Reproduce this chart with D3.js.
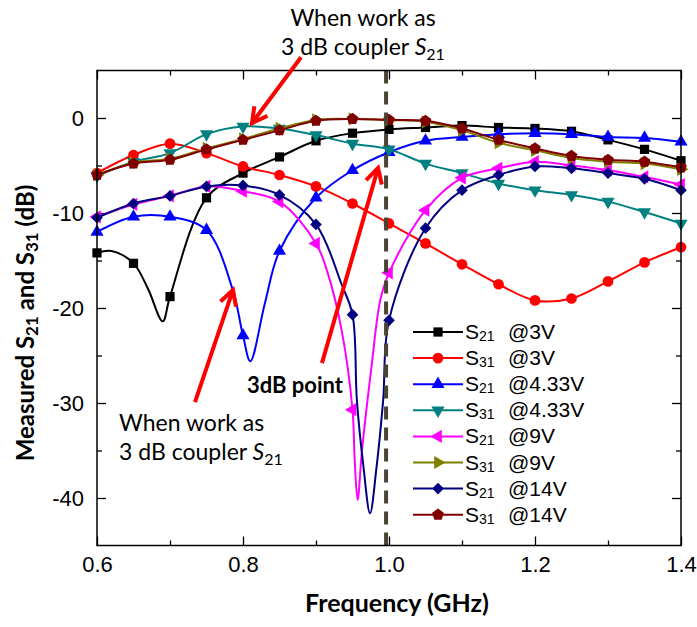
<!DOCTYPE html>
<html lang="en">
<head>
<meta charset="UTF-8">
<title>Measured S21 and S31</title>
<script src="https://d3js.org/d3.v7.min.js"></script>
<style>
    html, body { margin: 0; background: #fff; }
    svg { display: block; }
    .tick text { font-family: "Liberation Sans", Arial, sans-serif; font-size: 22px; fill: #000; }
    .tick line { stroke: #000; stroke-width: 1.3px; }
</style>
</head>
<body>
<div id="vis"></div>
<script>
    // [frequency GHz, dB]; points on the 0.05 GHz grid get a marker
    var s21_3V = [[0.6,-14.2],[0.62,-14.0],[0.65,-15.3],[0.67,-18.0],[0.69,-21.4],[0.7,-18.8],[0.75,-8.4],[0.8,-5.8],[0.85,-4.1],[0.9,-2.4],[0.95,-1.6],[1.0,-1.2],[1.05,-1.0],[1.1,-0.8],[1.15,-1.0],[1.2,-1.1],[1.25,-1.4],[1.3,-2.3],[1.35,-3.3],[1.4,-4.5]];
    var s31_3V = [[0.6,-5.8],[0.65,-3.9],[0.7,-2.7],[0.75,-3.7],[0.8,-5.1],[0.85,-6.0],[0.9,-7.2],[0.95,-9.0],[1.0,-11.1],[1.05,-13.2],[1.1,-15.4],[1.15,-17.5],[1.2,-19.2],[1.25,-19.0],[1.3,-17.2],[1.35,-15.2],[1.4,-13.6]];
    var s21_433V = [[0.6,-12.0],[0.65,-10.4],[0.7,-10.4],[0.75,-11.8],[0.786,-18.1],[0.8,-22.9],[0.81,-25.6],[0.83,-19.5],[0.85,-14.0],[0.9,-8.4],[0.95,-5.5],[1.0,-3.6],[1.05,-2.4],[1.1,-2.0],[1.15,-1.7],[1.2,-1.6],[1.25,-1.7],[1.3,-2.0],[1.35,-2.1],[1.4,-2.5]];
    var s31_433V = [[0.6,-6.1],[0.65,-4.6],[0.7,-3.7],[0.75,-1.7],[0.8,-0.9],[0.85,-1.1],[0.9,-1.8],[0.95,-2.7],[1.0,-3.3],[1.05,-4.8],[1.1,-5.8],[1.15,-6.9],[1.2,-7.6],[1.25,-8.1],[1.3,-8.8],[1.35,-9.9],[1.4,-11.1]];
    var s21_9V = [[0.6,-10.4],[0.65,-9.1],[0.7,-8.2],[0.75,-7.2],[0.8,-7.7],[0.85,-8.8],[0.9,-13.2],[0.916,-16.3],[0.935,-22.3],[0.95,-30.7],[0.953,-36.0],[0.957,-40.2],[0.963,-35.0],[0.976,-26.2],[0.988,-19.2],[1.0,-16.3],[1.05,-9.7],[1.1,-6.3],[1.15,-5.3],[1.2,-4.6],[1.25,-5.0],[1.3,-5.5],[1.35,-6.2],[1.4,-7.0]];
    var s31_9V = [[0.6,-6.0],[0.65,-4.7],[0.7,-4.3],[0.75,-3.2],[0.8,-2.2],[0.85,-1.1],[0.9,-0.2],[0.95,-0.1],[1.0,-0.2],[1.05,-0.4],[1.1,-1.3],[1.15,-2.6],[1.2,-3.4],[1.25,-4.2],[1.3,-4.6],[1.35,-4.8],[1.4,-5.4]];
    var s21_14V = [[0.6,-10.5],[0.65,-9.0],[0.7,-8.2],[0.75,-7.2],[0.8,-7.1],[0.85,-8.1],[0.9,-11.2],[0.935,-17.5],[0.95,-20.7],[0.956,-29.7],[0.965,-36.7],[0.974,-41.6],[0.983,-36.7],[0.992,-29.7],[1.0,-21.3],[1.05,-11.6],[1.1,-7.6],[1.15,-6.0],[1.2,-5.1],[1.25,-5.3],[1.3,-5.8],[1.35,-6.4],[1.4,-7.6]];
    var s31_14V = [[0.6,-6.0],[0.65,-4.8],[0.7,-4.4],[0.75,-3.3],[0.8,-2.3],[0.85,-1.3],[0.9,-0.3],[0.95,-0.1],[1.0,-0.2],[1.05,-0.3],[1.1,-1.1],[1.15,-2.3],[1.2,-3.2],[1.25,-4.0],[1.3,-4.4],[1.35,-4.6],[1.4,-5.2]];

    var xMajor = [0.6, 0.8, 1.0, 1.2, 1.4];
    var xMinor = [0.7, 0.9, 1.1, 1.3];
    var yMajor = [0, -10, -20, -30, -40];
    var yMinor = [-5, -15, -25, -35];
    var markerFreq = 0.996;   // dashed "3dB point" line

    var width = 697, height = 627;
    var margin = {top: 70.5, right: 16, bottom: 81.5, left: 97};
    var plotW = width - margin.left - margin.right;
    var plotH = height - margin.top - margin.bottom;

    var svg = d3.select('#vis').append('svg')
        .attr('width', width)
        .attr('height', height);

    var g = svg.append('g')
        .attr('transform', 'translate(' + margin.left + ',' + margin.top + ')');

    var x = d3.scaleLinear().domain([0.6, 1.4]).range([0, plotW]);
    var y = d3.scaleLinear().domain([5, -45]).range([0, plotH]);

    // custom pentagon symbol
    var symbolPentagon = {
        draw: function(ctx, size) {
            var r = Math.sqrt(size / 2.378);
            for (var i = 0; i < 5; i++) {
                var a = -Math.PI / 2 + i * 2 * Math.PI / 5;
                if (i === 0) ctx.moveTo(r * Math.cos(a), r * Math.sin(a));
                else ctx.lineTo(r * Math.cos(a), r * Math.sin(a));
            }
            ctx.closePath();
        }
    };

    var series = [
        {data: s21_3V,   color: '#000000', type: d3.symbolSquare,   size: 85, rot: 0,   sub: '21', v: '@3V'},
        {data: s31_3V,   color: '#ff0000', type: d3.symbolCircle,   size: 90, rot: 0,   sub: '31', v: '@3V'},
        {data: s21_433V, color: '#0000ff', type: d3.symbolTriangle, size: 75, rot: 0,   sub: '21', v: '@4.33V'},
        {data: s31_433V, color: '#008080', type: d3.symbolTriangle, size: 75, rot: 180, sub: '31', v: '@4.33V'},
        {data: s21_9V,   color: '#ff00ff', type: d3.symbolTriangle, size: 75, rot: -90, sub: '21', v: '@9V'},
        {data: s31_9V,   color: '#808000', type: d3.symbolTriangle, size: 75, rot: 90,  sub: '31', v: '@9V'},
        {data: s21_14V,  color: '#000080', type: d3.symbolSquare,   size: 68, rot: 45,  sub: '21', v: '@14V'},
        {data: s31_14V,  color: '#800000', type: symbolPentagon,    size: 90, rot: 0,   sub: '31', v: '@14V'}
    ];

    function onGrid(f) {
        return Math.abs(f * 20 - Math.round(f * 20)) < 1e-6;
    }

    // axes: ticks inside on all four sides
    var fmtY = function(d) { return String(d); };
    g.append('g').attr('class', 'axis')
        .attr('transform', 'translate(0,' + plotH + ')')
        .call(d3.axisBottom(x).tickValues(xMajor).tickSize(-9).tickPadding(11).tickFormat(d3.format('.1f')));
    g.append('g').attr('class', 'axis')
        .attr('transform', 'translate(0,' + plotH + ')')
        .call(d3.axisBottom(x).tickValues(xMinor).tickSize(-5).tickFormat(''));
    g.append('g').attr('class', 'axis')
        .call(d3.axisTop(x).tickValues(xMajor).tickSize(-9).tickFormat(''));
    g.append('g').attr('class', 'axis')
        .call(d3.axisTop(x).tickValues(xMinor).tickSize(-5).tickFormat(''));
    g.append('g').attr('class', 'axis')
        .call(d3.axisLeft(y).tickValues(yMajor).tickSize(-9).tickPadding(13).tickFormat(fmtY));
    g.append('g').attr('class', 'axis')
        .call(d3.axisLeft(y).tickValues(yMinor).tickSize(-5).tickFormat(''));
    g.append('g').attr('class', 'axis')
        .attr('transform', 'translate(' + plotW + ',0)')
        .call(d3.axisRight(y).tickValues(yMajor).tickSize(-9).tickFormat(''));
    g.append('g').attr('class', 'axis')
        .attr('transform', 'translate(' + plotW + ',0)')
        .call(d3.axisRight(y).tickValues(yMinor).tickSize(-5).tickFormat(''));
    g.selectAll('.axis .domain').remove();

    // curves
    var line = d3.line()
        .x(function(d) { return x(d[0]); })
        .y(function(d) { return y(d[1]); })
        .curve(d3.curveCatmullRom.alpha(0.5));

    series.forEach(function(s) {
        g.append('path')
            .datum(s.data)
            .attr('d', line)
            .attr('fill', 'none')
            .attr('stroke', s.color)
            .attr('stroke-width', 2);
        g.selectAll(null)
            .data(s.data.filter(function(d) { return onGrid(d[0]); }))
            .enter().append('path')
            .attr('d', d3.symbol().type(s.type).size(s.size))
            .attr('transform', function(d) {
                return 'translate(' + x(d[0]) + ',' + y(d[1]) + ') rotate(' + s.rot + ')';
            })
            .attr('fill', s.color);
    });

    // dashed vertical line at the 3dB point
    g.append('line')
        .attr('x1', x(markerFreq)).attr('x2', x(markerFreq))
        .attr('y1', 0).attr('y2', plotH)
        .attr('stroke', '#4a4434')
        .attr('stroke-width', 4)
        .attr('stroke-dasharray', '13,8');

    // frame
    g.append('rect')
        .attr('width', plotW).attr('height', plotH)
        .attr('fill', 'none').attr('stroke', '#000').attr('stroke-width', 1.5);

    // legend
    var legend = g.append('g')
        .attr('transform', 'translate(' + (413 - margin.left) + ',' + (332 - margin.top) + ')');
    series.forEach(function(s, i) {
        var row = legend.append('g').attr('transform', 'translate(0,' + (i * 26.1) + ')');
        row.append('line').attr('x1', 0).attr('x2', 50)
            .attr('stroke', s.color).attr('stroke-width', 2);
        row.append('path')
            .attr('d', d3.symbol().type(s.type).size(s.size))
            .attr('transform', 'translate(25,0) rotate(' + s.rot + ')')
            .attr('fill', s.color);
        var t = row.append('text')
            .attr('x', 52).attr('y', 7)
            .style('font-family', '"Liberation Sans", Arial, sans-serif')
            .style('font-size', '21px');
        t.append('tspan').text('S');
        t.append('tspan').attr('dy', 2).style('font-size', '14px').text(s.sub);
        row.append('text')
            .attr('x', 95).attr('y', 7)
            .style('font-family', '"Liberation Sans", Arial, sans-serif')
            .style('font-size', '21px')
            .text(s.v);
    });

    // red annotation arrows, given as [start, tip] in data units
    var arrows = [
        [[0.8795, 6.4], [0.8123, -0.53]],
        [[0.7342, -29.9], [0.7863, -18.1]],
        [[0.9082, -25.8], [0.985, -5.26]]
    ];
    arrows.forEach(function(a) {
        var x0 = x(a[0][0]), y0 = y(a[0][1]), x1 = x(a[1][0]), y1 = y(a[1][1]);
        var ang = Math.atan2(y1 - y0, x1 - x0);
        var hl = 17, hw = 0.5;
        var p = 'M' + x0 + ',' + y0 + 'L' + x1 + ',' + y1 +
            'M' + (x1 - hl * Math.cos(ang - hw)) + ',' + (y1 - hl * Math.sin(ang - hw)) +
            'L' + x1 + ',' + y1 +
            'L' + (x1 - hl * Math.cos(ang + hw)) + ',' + (y1 - hl * Math.sin(ang + hw));
        svg.append('path')
            .attr('transform', 'translate(' + margin.left + ',' + margin.top + ')')
            .attr('d', p)
            .attr('fill', 'none')
            .attr('stroke', '#ff0000')
            .attr('stroke-width', 4)
            .attr('stroke-linejoin', 'miter');
    });

    // annotation texts
    var annFont = 'Lato, "Open Sans", sans-serif';
    function coupler(xPos, yPos, anchor) {
        svg.append('text').attr('x', xPos).attr('y', yPos)
            .attr('text-anchor', anchor)
            .style('font-family', annFont).style('font-size', '23px')
            .text('When work as');
        var t2 = svg.append('text').attr('x', xPos).attr('y', yPos + 29)
            .attr('text-anchor', anchor)
            .style('font-family', annFont).style('font-size', '23px');
        t2.append('tspan').text('3 dB coupler ');
        t2.append('tspan').style('font-style', 'italic').text('S');
        t2.append('tspan').attr('dy', 5).style('font-size', '16px').text('21');
    }
    coupler(363, 26, 'middle');
    coupler(119, 431, 'start');

    svg.append('text')
        .attr('x', 295).attr('y', 393)
        .attr('text-anchor', 'middle')
        .style('font-family', annFont).style('font-weight', 'bold').style('font-size', '22px')
        .text('3dB point');

    // axis titles
    svg.append('text')
        .attr('x', 397).attr('y', 612)
        .attr('text-anchor', 'middle')
        .style('font-family', annFont).style('font-weight', 'bold').style('font-size', '25px')
        .text('Frequency (GHz)');

    var yt = svg.append('text')
        .attr('transform', 'translate(34,323) rotate(-90)')
        .attr('text-anchor', 'middle')
        .style('font-family', annFont).style('font-weight', 'bold').style('font-size', '24px');
    yt.append('tspan').text('Measured S');
    yt.append('tspan').attr('dy', 4).style('font-size', '17px').text('21');
    yt.append('tspan').attr('dy', -4).text(' and S');
    yt.append('tspan').attr('dy', 4).style('font-size', '17px').text('31');
    yt.append('tspan').attr('dy', -4).text(' (dB)');
</script>
</body>
</html>
